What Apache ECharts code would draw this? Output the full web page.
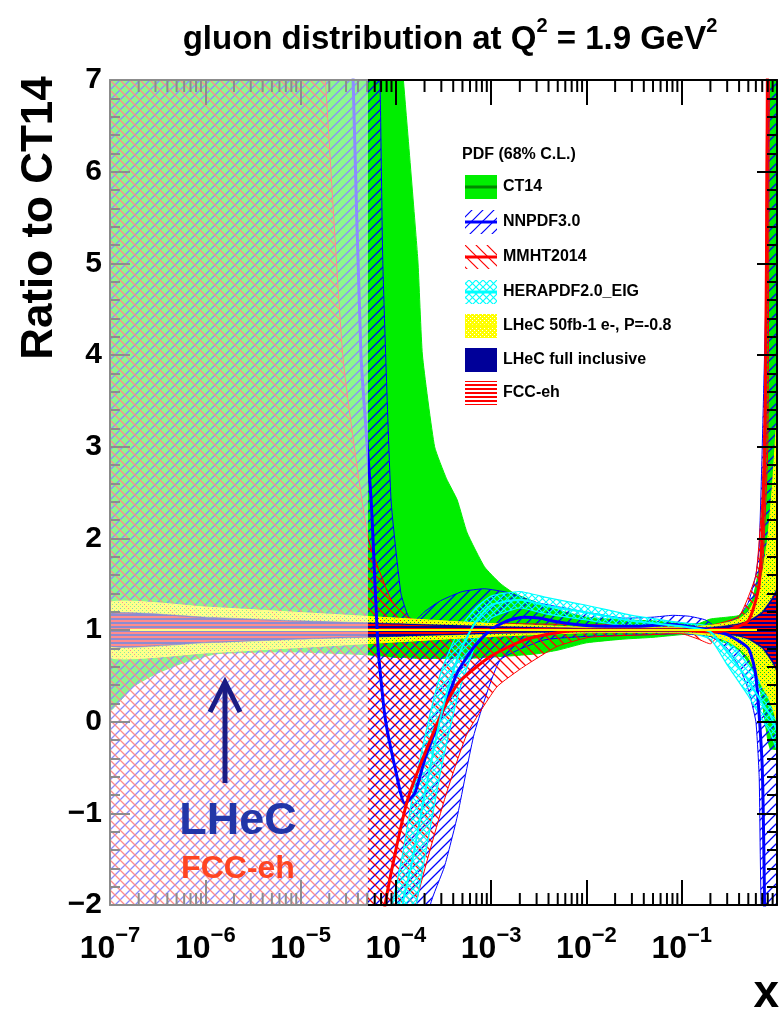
<!DOCTYPE html>
<html><head><meta charset="utf-8">
<script src="https://cdn.jsdelivr.net/npm/echarts@6/dist/echarts.min.js"></script>
<style>html,body{margin:0;padding:0;background:#fff}#c{width:780px;height:1010px}</style>
</head><body><div id="c"></div>
<script>
// ---------------- data ----------------
const xTickExponents = [-7, -6, -5, -4, -3, -2, -1];
const xMinorMultipliers = [2, 3, 4, 5, 6, 7, 8, 9];
const yTickLabels = [-2, -1, 0, 1, 2, 3, 4, 5, 6, 7];

// extrapolation region (shaded)
const shadeX = [1e-7, 5.1e-5];

// CT14
const ct14X  = [1e-7,1.74e-7,3e-7,5.8e-7,1.3e-6,4.3e-6,1e-5,5e-5,1e-4,1.2e-4,1.7e-4,1.9e-4,2.55e-4,3.4e-4,4.4e-4,5.6e-4,8.5e-4,1.24e-3,1.74e-3,3e-3,5e-3,1e-2,2.4e-2,5e-2,0.1,0.15,0.2,0.3,0.4,0.55,0.665,0.75,0.8,0.85,0.9,1];
const ct14Hi = [8,8,8,8,8,8,8,8,8,7.0,5.04,4.0,3.0,2.65,2.42,2.06,1.69,1.51,1.40,1.30,1.22,1.14,1.11,1.10,1.07,1.07,1.12,1.14,1.16,1.33,1.76,3.5,5.0,7.5,8,8];
const ct14Lo = [0.13,0.38,0.52,0.64,0.74,0.76,0.76,0.73,0.70,0.70,0.69,0.69,0.69,0.69,0.69,0.69,0.70,0.71,0.72,0.74,0.78,0.86,0.90,0.92,0.95,0.96,0.93,0.85,0.78,0.58,0.35,0.0,-0.2,-0.3,-0.3,-0.3];
const ct14MidX = [1e-7, 1];
const ct14Mid  = [1, 1];

// NNPDF3.0
const nnHiX = [1e-7,6.0e-5,6.8e-5,7.3e-5,8.9e-5,1.13e-4,1.35e-4,1.58e-4,2.0e-4,2.95e-4,5e-4,8.5e-4,1.48e-3,3e-3,1.07e-2,2.4e-2,5e-2,8e-2,0.12,0.178,0.22,0.3,0.4,0.5,0.6,0.65,0.7,0.8,0.85,1];
const nnHi  = [8,8,7.0,5.0,2.42,1.4,1.15,1.1,1.2,1.32,1.42,1.45,1.41,1.3,1.19,1.13,1.14,1.16,1.15,1.11,1.05,1.08,1.15,1.3,1.6,1.9,3.0,5.5,8,8];
const nnLoX = [1e-7,2.0e-4,2.3e-4,3.24e-4,4.4e-4,6.65e-4,1.24e-3,3.56e-3,1e-2,5e-2,0.1,0.2,0.3,0.4,0.5,0.6,0.65,0.7,1];
const nnLo  = [-3,-3,-2.0,-1.58,-1.04,-0.13,0.67,0.89,0.93,0.95,0.96,0.93,0.8,0.6,0.35,0.0,-0.6,-2.3,-3];
const nnMidX = [3.2e-5,3.56e-5,4.3e-5,5.5e-5,6.5e-5,7.7e-5,9.8e-5,1.24e-4,1.58e-4,2.0e-4,2.95e-4,4.4e-4,6.65e-4,9.8e-4,1.47e-3,2.2e-3,3.2e-3,4.9e-3,1e-2,3e-2,8e-2,0.15,0.3,0.5,0.6,0.7,0.75];
const nnMid  = [8.5,7.0,4.0,2.42,0.82,0.05,-0.5,-0.89,-0.78,-0.42,0.05,0.53,0.82,1.0,1.1,1.14,1.13,1.09,1.05,1.04,1.06,1.02,0.95,0.8,0.5,-0.5,-2.5];

// MMHT2014
const mmHiX = [1e-7,1.5e-5,1.82e-5,2.8e-5,5.1e-5,8.9e-5,1.33e-4,2.0e-4,1e-3,1e-2,0.1,0.2,0.4,0.6,0.7,0.75,0.8,1];
const mmHi  = [8,8,7.0,3.95,2.01,1.33,1.14,1.08,1.07,1.06,1.04,1.05,1.15,1.6,2.5,4.0,7.5,8];
const mmLoX = [1e-7,1.4e-4,1.62e-4,3.24e-4,5.6e-4,1.15e-3,2.2e-3,4.9e-3,1.07e-2,5e-2,0.1,0.15,0.2,0.25,0.4,0.6,0.7,0.8,0.85,1];
const mmLo  = [-3,-3,-2.0,-0.85,-0.13,0.38,0.6,0.82,0.92,0.95,0.96,0.9,0.85,0.95,1.0,1.2,1.6,3.0,8,8];
const mmMidX = [7.0e-5,7.7e-5,1.33e-4,2.9e-4,4.5e-4,9.8e-4,2.2e-3,4.9e-3,1e-2,0.1,0.2,0.3,0.5,0.65,0.75,0.8];
const mmMid  = [-2.6,-2.0,-0.85,0.05,0.42,0.71,0.89,0.97,1.0,1.0,0.98,1.0,1.1,1.5,3.0,8];

// HERAPDF2.0_EIG
const hpX   = [8.5e-5,1.2e-4,1.5e-4,2e-4,2.5e-4,3e-4,4e-4,5e-4,7e-4,1e-3,2e-3,4e-3,1e-2,3e-2,0.1,0.2,0.3,0.5,0.7,0.85,1];
const hpHi  = [-2.2,-1.4,-0.8,-0.18,0.25,0.55,0.87,1.06,1.25,1.37,1.42,1.35,1.27,1.16,1.08,1.04,0.9,0.62,0.4,0.25,0.1];
const hpLo  = [-3,-2.5,-2.2,-1.5,-0.95,-0.5,0.08,0.45,0.86,1.13,1.24,1.17,1.11,1.03,0.99,0.9,0.62,0.28,0.02,-0.12,-0.3];
const hpMid = [-3,-1.95,-1.5,-0.8,-0.3,0.08,0.55,0.82,1.1,1.27,1.33,1.26,1.19,1.1,1.04,0.98,0.76,0.45,0.2,0.07,-0.1];

// LHeC 50fb-1 e-, P=-0.8 ; LHeC full inclusive ; FCC-eh
const lhX  = [1e-7,1e-6,1e-5,1e-4,1e-3,1e-2,0.1,0.2,0.3,0.4,0.5,0.6,0.7,0.8,0.9,1];
const lhHi = [1.30,1.25,1.19,1.13,1.07,1.03,1.03,1.05,1.08,1.12,1.2,1.35,1.6,2.0,2.6,3.3];
const lhLo = [0.70,0.75,0.81,0.87,0.93,0.97,0.97,0.94,0.88,0.8,0.7,0.55,0.38,0.28,0.15,0.0];
const lhMid = [1,1,1,1,1,1,1,1,1,1,1,1,1,1,1,1];
const lfHi = [1.18,1.14,1.10,1.07,1.04,1.02,1.02,1.03,1.05,1.07,1.1,1.15,1.2,1.28,1.36,1.45];
const lfLo = [0.82,0.86,0.90,0.93,0.96,0.98,0.98,0.97,0.95,0.93,0.9,0.85,0.8,0.72,0.64,0.55];
const fcHi = [1.17,1.13,1.09,1.06,1.03,1.015,1.015,1.025,1.04,1.06,1.09,1.13,1.18,1.25,1.33,1.42];
const fcLo = [0.83,0.87,0.91,0.94,0.97,0.985,0.985,0.975,0.96,0.94,0.91,0.87,0.82,0.75,0.67,0.58];

const legendTitle = 'PDF (68% C.L.)';
const legendNames = ['CT14','NNPDF3.0','MMHT2014','HERAPDF2.0_EIG','LHeC 50fb-1 e-, P=-0.8','LHeC full inclusive','FCC-eh'];

// ---------------- styles ----------------
const FONT = "'Liberation Sans', Arial, Helvetica, sans-serif";
const GREEN = '#00ee00', DKGREEN = '#008800', BLUE = '#0000ff', RED = '#ff0000', CYAN = '#00ffff', YELLOW = '#ffff00', NAVY = '#000099';

function makePattern(w, h, draw) {
  const c = document.createElement('canvas'); c.width = w; c.height = h;
  const g = c.getContext('2d'); draw(g, w, h);
  return { image: c, repeat: 'repeat' };
}
function fwd(color, s, lw) { // "/"
  return makePattern(s, s, (g, w, h) => { g.strokeStyle = color; g.lineWidth = lw; g.beginPath();
    g.moveTo(-1, h + 1); g.lineTo(w + 1, -1); g.moveTo(-1, 1); g.lineTo(1, -1); g.moveTo(w - 1, h + 1); g.lineTo(w + 1, h - 1); g.stroke(); });
}
function bwd(color, s, lw) { // "\"
  return makePattern(s, s, (g, w, h) => { g.strokeStyle = color; g.lineWidth = lw; g.beginPath();
    g.moveTo(-1, -1); g.lineTo(w + 1, h + 1); g.moveTo(w - 1, -1); g.lineTo(w + 1, 1); g.moveTo(-1, h - 1); g.lineTo(1, h + 1); g.stroke(); });
}
function cross(color, s, lw) {
  return makePattern(s, s, (g, w, h) => { g.strokeStyle = color; g.lineWidth = lw; g.beginPath();
    g.moveTo(-1, h + 1); g.lineTo(w + 1, -1); g.moveTo(-1, -1); g.lineTo(w + 1, h + 1); g.stroke(); });
}
const patBlue = fwd(BLUE, 10, 1.3);
const patRed = bwd(RED, 10, 1.3);
const patCyan = cross(CYAN, 7, 1.2);
const patYellow = makePattern(4, 4, (g) => { g.fillStyle = YELLOW; g.fillRect(0, 0, 4, 4); g.clearRect(0, 0, 1, 1); g.clearRect(2, 2, 1, 1); });
const patStripes = makePattern(4, 4, (g) => { g.fillStyle = RED; g.fillRect(0, 0, 4, 2); });
const legBlue = fwd(BLUE, 11, 1.2), legRed = bwd(RED, 11, 1.2);

function band(name, hiX, hi, loX, lo, fill, stroke, lw, z) {
  return { type: 'custom', name, z, clip: true, silent: true, animation: false,
    data: [[1e-3, 1]],
    renderItem(params, api) {
      const pts = [];
      for (let i = 0; i < hiX.length; i++) pts.push(api.coord([hiX[i], hi[i]]));
      for (let i = loX.length - 1; i >= 0; i--) pts.push(api.coord([loX[i], lo[i]]));
      return { type: 'polygon', shape: { points: pts, smooth: 0.15 },
        style: { fill: fill, stroke: stroke || null, lineWidth: lw || 0 } };
    } };
}
function mid(name, xs, ys, color, width, z) {
  return { type: 'line', name, z, data: xs.map((x, i) => [x, ys[i]]), showSymbol: false, symbol: 'none',
    smooth: 0.2, clip: true, silent: true, animation: false, lineStyle: { color, width } };
}

const chart = echarts.init(document.getElementById('c'), null, { renderer: 'canvas', width: 780, height: 1010 });

const series = [
  band('CT14', ct14X, ct14Hi, ct14X, ct14Lo, GREEN, GREEN, 1, 2),
  band('NNPDF3.0', nnHiX, nnHi, nnLoX, nnLo, patBlue, BLUE, 1, 3),
  band('MMHT2014', mmHiX, mmHi, mmLoX, mmLo, patRed, RED, 1, 3),
  band('HERAPDF2.0_EIG', hpX, hpHi, hpX, hpLo, patCyan, CYAN, 1.2, 4),
  band('LHeC 50fb-1', lhX, lhHi, lhX, lhLo, patYellow, YELLOW, 1, 5),
  band('LHeC full inclusive', lhX, lfHi, lhX, lfLo, NAVY, NAVY, 0.5, 6),
  band('FCC-eh', lhX, fcHi, lhX, fcLo, patStripes, null, 0, 7),
  mid('CT14 central', ct14MidX, ct14Mid, DKGREEN, 2, 8),
  mid('NNPDF central', nnMidX, nnMid, BLUE, 3, 8),
  mid('MMHT central', mmMidX, mmMid, RED, 3, 8),
  mid('HERAPDF central', hpX, hpMid, CYAN, 2, 8),
  mid('LHeC central', lhX, lhMid, YELLOW, 2, 8),
  // minor log ticks (bottom and top)
  { type: 'custom', z: 11, silent: true, animation: false, data: [[1e-3, 1]],
    renderItem(params, api) {
      const ch = [];
      xTickExponents.forEach(e => xMinorMultipliers.forEach(m => {
        const v = m * Math.pow(10, e);
        const b = api.coord([v, -2]), t = api.coord([v, 7]);
        ch.push({ type: 'line', shape: { x1: b[0], y1: b[1], x2: b[0], y2: b[1] - 12 }, style: { stroke: '#000', lineWidth: 2 } });
        ch.push({ type: 'line', shape: { x1: t[0], y1: t[1], x2: t[0], y2: t[1] + 12 }, style: { stroke: '#000', lineWidth: 2 } });
      }));
      return { type: 'group', children: ch };
    } },
  // semi-transparent veil over the extrapolation region
  { type: 'custom', z: 20, silent: true, animation: false, clip: false, data: [[1e-3, 1]],
    renderItem(params, api) {
      const p1 = api.coord([shadeX[0], 7]), p2 = api.coord([shadeX[1], -2]);
      return { type: 'rect', shape: { x: p1[0] - 3, y: p1[1] - 3, width: p2[0] - p1[0] + 3, height: p2[1] - p1[1] + 6 },
        style: { fill: 'rgba(255,255,255,0.55)' } };
    } }
];

const tickStyle = { color: '#000', width: 2 };
function xAx(pos, showLabel) {
  return { type: 'log', logBase: 10, min: 1e-7, max: 1, splitNumber: 7, position: pos, z: 10,
    axisLine: { show: true, onZero: false, lineStyle: { color: '#000', width: 2 } },
    splitLine: { show: false }, minorTick: { show: false },
    axisTick: { show: true, inside: true, length: 25, lineStyle: tickStyle },
    axisLabel: { show: showLabel, margin: 20, formatter: (v) => {
        const e = Math.round(Math.log10(v));
        if (xTickExponents.indexOf(e) < 0) return '';
        return '{b|10}{s|' + String(e).replace('-', '\u2212') + '}';
      },
      rich: { b: { fontSize: 32, fontWeight: 'bold', fontFamily: FONT, color: '#000', lineHeight: 40, verticalAlign: 'bottom' },
              s: { fontSize: 22, fontWeight: 'bold', fontFamily: FONT, color: '#000', lineHeight: 22, verticalAlign: 'top' } } } };
}
function yAx(pos, showLabel) {
  return { type: 'value', min: -2, max: 7, interval: 1, position: pos, z: 10,
    axisLine: { show: true, onZero: false, lineStyle: { color: '#000', width: 2 } },
    splitLine: { show: false },
    axisTick: { show: true, inside: true, length: 20, lineStyle: tickStyle },
    minorTick: { show: true, splitNumber: 5, length: 10, lineStyle: tickStyle },
    axisLabel: { show: showLabel, margin: 8, fontSize: 30, fontWeight: 'bold', fontFamily: FONT, color: '#000',
      formatter: (v) => (yTickLabels.indexOf(v) >= 0 ? String(v).replace('-', '\u2212') : '') } };
}

// legend + annotations (graphic)
const rows = [187, 222, 257, 292, 326, 360, 393];
const swFill = [GREEN, legBlue, legRed, patCyan, patYellow, NAVY, patStripes];
const swLine = [DKGREEN, BLUE, RED, CYAN, YELLOW, null, null];
const graphics = [];
graphics.push({ type: 'text', z: 100, x: 450, y: 36, style: {
  text: '{a|gluon distribution at Q}{s|2}{a| = 1.9 GeV}{s|2}', textAlign: 'center', textVerticalAlign: 'middle',
  rich: { a: { fontSize: 33, fontWeight: 'bold', fontFamily: FONT, fill: '#000', lineHeight: 40, verticalAlign: 'bottom' },
          s: { fontSize: 20, fontWeight: 'bold', fontFamily: FONT, fill: '#000', lineHeight: 20, verticalAlign: 'top' } } } });
graphics.push({ type: 'text', z: 100, x: 40, y: 218, rotation: Math.PI / 2, style: {
  text: 'Ratio to CT14', font: 'bold 44px ' + FONT, fill: '#000', textAlign: 'center', textVerticalAlign: 'middle' } });
graphics.push({ type: 'text', z: 100, x: 779, y: 994, style: {
  text: 'x', font: 'bold 46px ' + FONT, fill: '#000', textAlign: 'right', textVerticalAlign: 'middle' } });
graphics.push({ type: 'text', z: 100, x: 462, y: 155, style: {
  text: legendTitle, font: 'bold 16px ' + FONT, fill: '#000', textAlign: 'left', textVerticalAlign: 'middle' } });
legendNames.forEach((n, i) => {
  const y = rows[i];
  graphics.push({ type: 'rect', z: 100, shape: { x: 465, y: y - 12, width: 32, height: 24 }, style: { fill: swFill[i] } });
  if (swLine[i]) graphics.push({ type: 'line', z: 101, shape: { x1: 465, y1: y, x2: 497, y2: y }, style: { stroke: swLine[i], lineWidth: 3 } });
  graphics.push({ type: 'text', z: 100, x: 503, y: y, style: { text: n, font: 'bold 16px ' + FONT, fill: '#000', textAlign: 'left', textVerticalAlign: 'middle' } });
});
// arrow + labels
graphics.push({ type: 'line', z: 100, shape: { x1: 225, y1: 783, x2: 225, y2: 684 }, style: { stroke: '#1c1c84', lineWidth: 5 } });
graphics.push({ type: 'polyline', z: 100, shape: { points: [[210, 712], [225, 682], [240, 712]] }, style: { stroke: '#1c1c84', lineWidth: 5, fill: null, lineJoin: 'miter' } });
graphics.push({ type: 'text', z: 100, x: 238, y: 822, style: { text: 'LHeC', font: 'bold 45px ' + FONT, fill: '#2236a8', textAlign: 'center', textVerticalAlign: 'middle' } });
graphics.push({ type: 'text', z: 100, x: 238, y: 869, style: { text: 'FCC-eh', font: 'bold 32px ' + FONT, fill: '#ff4422', textAlign: 'center', textVerticalAlign: 'middle' } });

chart.setOption({
  animation: false,
  backgroundColor: '#ffffff',
  grid: { left: 110, top: 80, width: 672, height: 825, containLabel: false },
  xAxis: [xAx('bottom', true), xAx('top', false)],
  yAxis: [yAx('left', true), yAx('right', false)],
  series: series.map(s => Object.assign({ xAxisIndex: 0, yAxisIndex: 0 }, s)),
  graphic: graphics
});
</script></body></html>
